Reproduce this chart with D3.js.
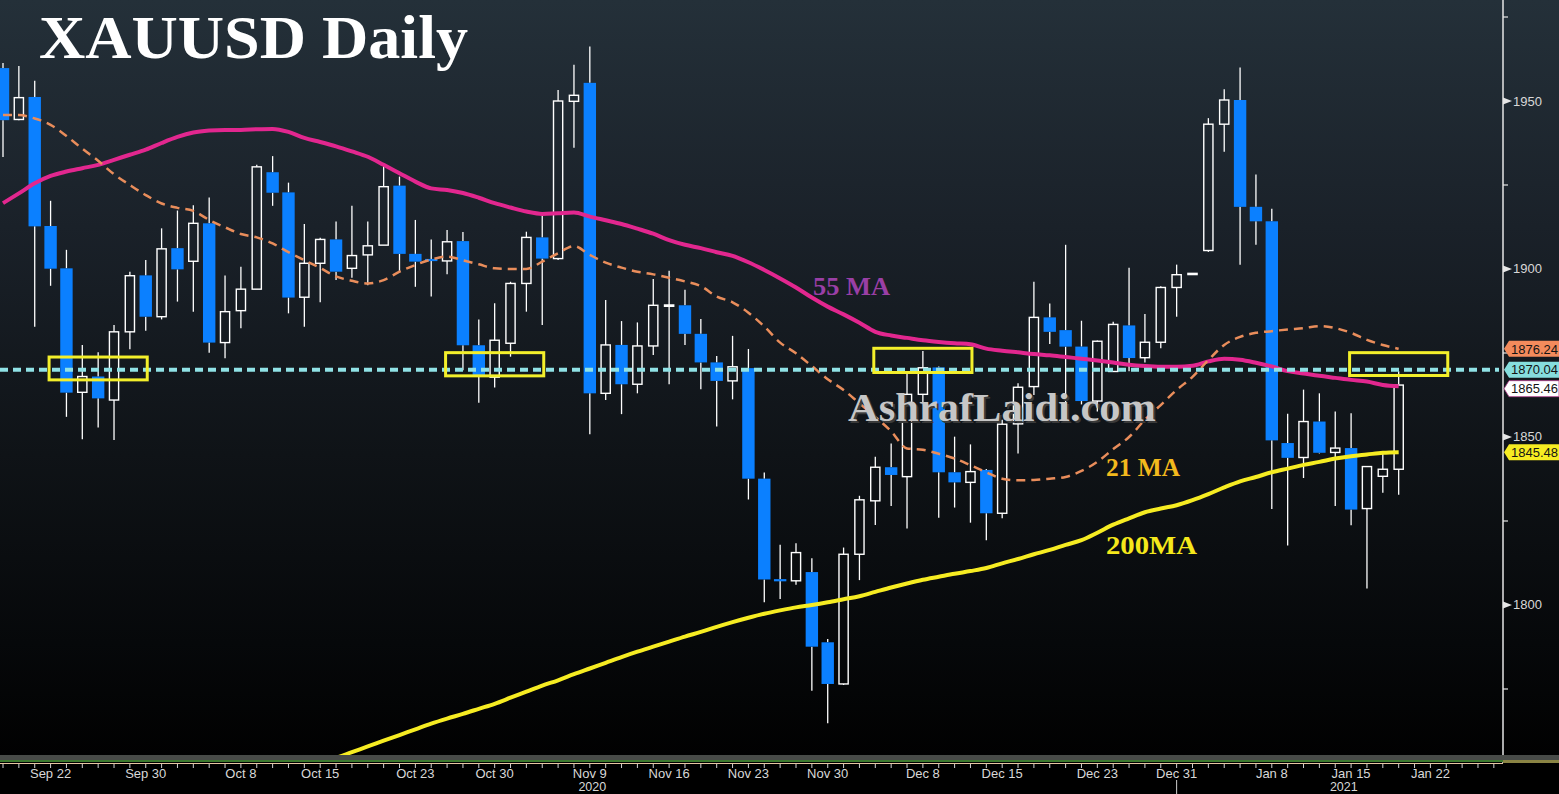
<!DOCTYPE html>
<html><head><meta charset="utf-8">
<script src="https://cdn.jsdelivr.net/npm/d3@7"></script>
<style>html,body{margin:0;padding:0;background:#000;overflow:hidden}</style>
</head><body>
<svg id="c" width="1559" height="794"></svg>
<script>
// ---------------- DATA ----------------
const dates = [
 "2020-09-17","2020-09-18","2020-09-21","2020-09-22","2020-09-23","2020-09-24","2020-09-25","2020-09-28","2020-09-29","2020-09-30",
 "2020-10-01","2020-10-02","2020-10-05","2020-10-06","2020-10-07","2020-10-08","2020-10-09","2020-10-12","2020-10-13","2020-10-14",
 "2020-10-15","2020-10-16","2020-10-19","2020-10-20","2020-10-21","2020-10-22","2020-10-23","2020-10-26","2020-10-27","2020-10-28",
 "2020-10-29","2020-10-30","2020-11-02","2020-11-03","2020-11-04","2020-11-05","2020-11-06","2020-11-09","2020-11-10","2020-11-11",
 "2020-11-12","2020-11-13","2020-11-16","2020-11-17","2020-11-18","2020-11-19","2020-11-20","2020-11-23","2020-11-24","2020-11-25",
 "2020-11-26","2020-11-27","2020-11-30","2020-12-01","2020-12-02","2020-12-03","2020-12-04","2020-12-07","2020-12-08","2020-12-09",
 "2020-12-10","2020-12-11","2020-12-14","2020-12-15","2020-12-16","2020-12-17","2020-12-18","2020-12-21","2020-12-22","2020-12-23",
 "2020-12-24","2020-12-28","2020-12-29","2020-12-30","2020-12-31","2021-01-01","2021-01-04","2021-01-05","2021-01-06","2021-01-07",
 "2021-01-08","2021-01-11","2021-01-12","2021-01-13","2021-01-14","2021-01-15","2021-01-18","2021-01-19","2021-01-20"];
const futureDates = ["2021-01-21","2021-01-22","2021-01-25","2021-01-26","2021-01-27","2021-01-28"];

const open = [
 1959.8,1944.5,1951.2,1912.8,1900.2,1863.3,1868.0,1861.0,1881.3,1898.1,
 1885.8,1906.2,1902.3,1913.6,1878.1,1887.6,1894.0,1928.8,1922.8,1891.6,
 1901.7,1908.8,1900.2,1904.2,1907.1,1924.8,1904.5,1903.0,1902.4,1908.3,
 1877.3,1867.8,1877.9,1895.7,1909.4,1903.1,1949.9,1955.4,1863.0,1877.4,
 1865.7,1877.1,1888.9,1889.2,1880.7,1872.2,1866.7,1870.5,1837.6,1807.7,
 1807.2,1809.8,1788.9,1776.5,1815.1,1831.0,1841.0,1838.2,1862.7,1870.7,
 1839.5,1836.5,1840.2,1827.3,1853.9,1865.0,1885.6,1881.8,1876.9,1860.7,
 1869.5,1883.2,1873.6,1878.2,1894.5,1898.6,1905.5,1943.1,1950.3,1918.5,
 1914.2,1848.2,1843.9,1854.6,1845.4,1846.7,1828.7,1838.3,1840.4];
const high = [
 1961.3,1960.4,1956.0,1920.3,1905.7,1877.4,1875.2,1883.3,1899.2,1902.7,
 1912.1,1917.4,1919.0,1921.3,1898.1,1900.7,1931.0,1933.6,1925.7,1913.4,
 1909.3,1914.1,1918.8,1914.1,1931.0,1927.5,1914.6,1908.8,1911.6,1911.0,
 1885.0,1889.8,1896.2,1911.1,1915.9,1953.3,1960.8,1966.2,1890.8,1884.5,
 1884.1,1897.0,1899.5,1893.8,1885.1,1874.1,1880.1,1876.2,1839.4,1817.9,
 1818.4,1813.9,1789.9,1817.1,1832.5,1844.1,1848.1,1869.0,1875.6,1871.0,
 1850.1,1847.8,1840.5,1855.1,1866.0,1896.2,1889.7,1907.2,1884.6,1878.7,
 1884.3,1900.4,1886.6,1894.9,1901.3,1898.8,1944.9,1953.5,1960.0,1928.1,
 1917.9,1856.9,1864.1,1863.0,1857.6,1857.1,1841.2,1845.8,1869.6];
const low = [
 1933.3,1944.3,1882.8,1895.0,1856.0,1849.3,1852.8,1849.1,1876.1,1881.6,
 1885.0,1890.3,1887.3,1875.1,1873.4,1882.4,1894.0,1918.8,1886.8,1882.8,
 1890.1,1896.7,1897.4,1895.2,1907.1,1899.0,1894.7,1891.8,1898.4,1869.9,
 1860.2,1864.7,1873.9,1887.3,1883.3,1902.7,1936.1,1850.8,1861.0,1856.8,
 1863.0,1874.4,1865.7,1877.4,1864.2,1853.1,1861.2,1831.4,1800.8,1801.8,
 1806.0,1774.5,1764.8,1776.2,1807.4,1823.8,1829.5,1822.8,1860.3,1826.0,
 1829.0,1824.5,1819.3,1825.8,1845.1,1862.5,1877.7,1860.0,1859.7,1857.6,
 1869.5,1869.6,1872.2,1876.4,1885.8,1898.5,1905.1,1934.9,1901.3,1907.2,
 1828.6,1817.7,1837.8,1845.1,1829.5,1823.7,1804.9,1833.4,1832.8];
const close = [
 1944.3,1951.0,1912.7,1900.1,1863.2,1868.0,1861.5,1881.3,1898.0,1885.8,
 1906.0,1899.9,1913.6,1878.1,1887.3,1894.0,1930.4,1922.7,1891.5,1901.7,
 1908.8,1899.2,1904.0,1906.9,1924.5,1904.5,1902.2,1902.4,1908.1,1877.3,
 1868.0,1878.8,1895.7,1909.4,1903.1,1950.0,1951.7,1863.0,1877.4,1865.7,
 1877.1,1889.2,1889.3,1880.7,1872.2,1866.7,1870.9,1837.6,1807.6,1807.4,
 1815.6,1787.6,1776.5,1815.1,1831.3,1841.0,1838.7,1862.7,1870.6,1839.5,
 1836.5,1839.7,1827.3,1853.8,1864.8,1885.6,1881.3,1876.9,1860.7,1878.5,
 1883.5,1873.5,1878.2,1894.5,1898.3,1898.7,1943.1,1950.3,1918.5,1914.2,
 1849.0,1843.8,1854.6,1845.3,1846.7,1828.4,1841.2,1840.4,1865.46];

const ma21 = [
 1945.8,1945.8,1944.8,1942.9,1939.6,1935.8,1932.2,1928.2,1925.0,1922.0,
 1919.5,1918.2,1917.3,1914.6,1912.4,1910.4,1909.4,1907.6,1905.0,1902.6,
 1900.3,1897.8,1896.5,1895.7,1896.7,1899.2,1901.2,1902.8,1903.7,1902.6,
 1901.4,1900.2,1900.0,1900.0,1902.2,1904.7,1906.8,1904.2,1901.9,1900.4,
 1899.2,1898.4,1897.4,1896.3,1894.9,1891.8,1890.1,1887.0,1882.9,1878.1,
 1874.9,1871.1,1867.2,1864.0,1860.0,1856.0,1851.7,1846.6,1846.2,1845.0,
 1843.6,1841.6,1839.5,1837.6,1837.1,1837.2,1837.6,1838.1,1839.9,1842.6,
 1846.4,1850.0,1855.1,1859.5,1864.0,1867.9,1872.9,1877.4,1879.8,1881.0,
 1881.5,1882.0,1882.4,1883.0,1882.4,1881.0,1878.9,1877.4,1876.24];
const ma55 = [
 1919.6,1922.5,1925.5,1927.7,1929.0,1930.0,1931.0,1932.5,1934.0,1935.5,
 1937.5,1939.3,1940.6,1941.2,1941.4,1941.4,1941.6,1941.7,1940.8,1939.0,
 1937.8,1936.5,1935.0,1933.4,1931.0,1928.5,1926.0,1924.0,1923.5,1922.6,
 1921.2,1919.6,1918.3,1917.1,1916.4,1916.6,1916.8,1915.6,1914.5,1913.4,
 1912.0,1910.5,1908.6,1907.2,1906.2,1905.0,1903.9,1902.0,1899.7,1897.2,
 1894.5,1891.5,1888.8,1886.5,1884.0,1881.3,1880.2,1879.5,1878.8,1878.3,
 1877.9,1877.6,1876.3,1875.7,1875.2,1874.7,1874.3,1873.8,1873.3,1872.8,
 1872.2,1871.5,1871.1,1870.9,1870.9,1871.2,1872.5,1873.3,1873.0,1872.1,
 1871.0,1869.6,1868.9,1868.2,1867.6,1867.0,1866.5,1865.5,1865.1];
const ma200StartDate = "2020-10-15";
const ma200 = [
 1752.5,1754.5,1756.2,1757.9,1759.6,1761.3,1763.0,1764.7,1766.2,1767.6,
 1769.1,1770.6,1772.4,1774.2,1776.0,1777.6,1779.4,1781.1,1782.8,1784.5,
 1786.1,1787.6,1789.1,1790.6,1792.0,1793.5,1794.9,1796.2,1797.4,1798.4,
 1799.3,1800.0,1800.8,1801.7,1802.6,1803.9,1805.2,1806.4,1807.5,1808.4,
 1809.3,1810.1,1811.0,1812.4,1813.7,1815.1,1816.4,1817.9,1819.3,1821.5,
 1823.9,1825.8,1827.6,1828.7,1829.7,1831.2,1833.0,1835.0,1836.8,1838.1,
 1839.5,1840.6,1841.7,1842.6,1843.6,1844.3,1844.8,1845.3,1845.48];

const supportLevel = 1870.04;
const boxStart = ["2020-09-22","2020-10-27","2020-12-03","2021-01-15"];
const boxEnd   = ["2020-09-30","2020-11-04","2020-12-11","2021-01-25"];
const boxLow   = [1867.0,1868.2,1869.2,1868.3];
const boxHigh  = [1873.8,1875.1,1876.4,1875.1];

const yTicks = [1800,1850,1900,1950];
const yMinorTicks = [1775,1825,1875,1925,1975];
const xTickDates  = ["2020-09-22","2020-09-30","2020-10-08","2020-10-15","2020-10-23","2020-10-30","2020-11-09","2020-11-16","2020-11-23","2020-11-30","2020-12-08","2020-12-15","2020-12-23","2020-12-31","2021-01-08","2021-01-15","2021-01-22"];
const xTickLabels = ["Sep 22","Sep 30","Oct 8","Oct 15","Oct 23","Oct 30","Nov 9","Nov 16","Nov 23","Nov 30","Dec 8","Dec 15","Dec 23","Dec 31","Jan 8","Jan 15","Jan 22"];
const yearLabels = ["2020","2021"];
const tagValues = [1876.24,1870.04,1865.46,1845.48];
const tagNames  = ["ma21","level","close","ma200"];

// ---------------- LAYOUT / STYLE ----------------
const W = 1559, H = 794, plotRight = 1503, plotBottom = 757;
const C = {
  blue:"#0b80ff", white:"#ffffff", ma55:"#e2278f", ma21:"#e98d5b", ma200:"#f6ec22",
  level:"#90e2e6", box:"#f3ef2b", axis:"#e6e6e6", text:"#d8d8d8"
};
const tagFill = {ma21:"#f38b5c", level:"#86dede", close:"#ffffff", ma200:"#f6ec22"};

const svg = d3.select("#c");
const defs = svg.append("defs");
const grad = defs.append("linearGradient").attr("id","bg").attr("x1",0).attr("y1",0).attr("x2",0).attr("y2",1);
[[0,"#243039"],[0.3,"#1a2129"],[0.6,"#0f1317"],[0.85,"#06080a"],[1,"#010101"]].forEach(s=>
  grad.append("stop").attr("offset",s[0]).attr("stop-color",s[1]));
defs.append("clipPath").attr("id","clip").append("rect").attr("x",0).attr("y",0).attr("width",plotRight).attr("height",plotBottom);

svg.append("rect").attr("width",W).attr("height",H).attr("fill","#000");
svg.append("rect").attr("width",W).attr("height",plotBottom).attr("fill","url(#bg)");

// scales
const axisDates = dates.concat(futureDates);
const step = 15.86;
const x = d3.scalePoint().domain(axisDates).range([3, 3 + step*(axisDates.length-1)]);
const y = d3.scaleLinear().domain([1754.76, 1980.06]).range([plotBottom, 0]);

const candles = dates.map((d,i)=>({d, o:open[i], h:high[i], l:low[i], c:close[i]}));

const plot = svg.append("g").attr("clip-path","url(#clip)");

// wicks
const wick = plot.append("g").attr("stroke",C.white).attr("stroke-width",1.3);
wick.selectAll("line.up").data(candles).join("line")
  .attr("x1",d=>x(d.d)).attr("x2",d=>x(d.d))
  .attr("y1",d=>y(d.h)).attr("y2",d=>y(Math.max(d.o,d.c)));
wick.selectAll("line.dn").data(candles).join("line").attr("class","dn")
  .attr("x1",d=>x(d.d)).attr("x2",d=>x(d.d))
  .attr("y1",d=>y(Math.min(d.o,d.c))).attr("y2",d=>y(d.l));

// bodies
plot.append("g").selectAll("rect").data(candles.filter(d=>d.c<d.o)).join("rect")
  .attr("x",d=>x(d.d)-6.2).attr("width",12.4)
  .attr("y",d=>y(d.o)).attr("height",d=>Math.max(2.2,y(d.c)-y(d.o)))
  .attr("fill",C.blue);
plot.append("g").selectAll("rect").data(candles.filter(d=>d.c>=d.o)).join("rect")
  .attr("x",d=>x(d.d)-4.6).attr("width",9.2)
  .attr("y",d=>y(d.c)).attr("height",d=>Math.max(1.2,y(d.o)-y(d.c)))
  .attr("fill","none").attr("stroke",C.white).attr("stroke-width",1.4);

// moving averages
const line = d3.line().x(d=>x(d[0])).y(d=>y(d[1])).curve(d3.curveMonotoneX);
const s200 = dates.indexOf(ma200StartDate);
plot.append("path").datum(ma200.map((v,i)=>[dates[s200+i],v])).attr("d",line)
  .attr("fill","none").attr("stroke",C.ma200).attr("stroke-width",4);
plot.append("path").datum(ma55.map((v,i)=>[dates[i],v])).attr("d",line)
  .attr("fill","none").attr("stroke",C.ma55).attr("stroke-width",4);
plot.append("path").datum(ma21.map((v,i)=>[dates[i],v])).attr("d",line)
  .attr("fill","none").attr("stroke",C.ma21).attr("stroke-width",2.5).attr("stroke-dasharray","9,6");

// support level
plot.append("line").attr("x1",0).attr("x2",plotRight-4)
  .attr("y1",y(supportLevel)).attr("y2",y(supportLevel))
  .attr("stroke",C.level).attr("stroke-width",4).attr("stroke-dasharray","8,5");

// boxes
plot.append("g").selectAll("rect").data(boxStart.map((s,i)=>({s,e:boxEnd[i],lo:boxLow[i],hi:boxHigh[i]}))).join("rect")
  .attr("x",d=>x(d.s)-1.5).attr("width",d=>x(d.e)-x(d.s)+3)
  .attr("y",d=>y(d.hi)).attr("height",d=>y(d.lo)-y(d.hi))
  .attr("fill","none").attr("stroke",C.box).attr("stroke-width",3);

// watermark
const serif = "'Liberation Serif','DejaVu Serif',serif";
const wm = svg.append("g").attr("font-family",serif).attr("font-weight","bold").attr("font-size",41);
wm.append("text").attr("x",850).attr("y",423).attr("textLength",308).attr("lengthAdjust","spacingAndGlyphs")
  .attr("fill","#3a3a3a").text("AshrafLaidi.com");
wm.append("text").attr("x",848).attr("y",421).attr("textLength",308).attr("lengthAdjust","spacingAndGlyphs")
  .attr("fill","#c6c6c6").text("AshrafLaidi.com");

// MA labels
const lab = svg.append("g").attr("font-family",serif).attr("font-weight","bold");
lab.append("text").attr("x",813).attr("y",295).attr("font-size",26).attr("textLength",77).attr("lengthAdjust","spacingAndGlyphs").attr("fill","#9a3fa6").text("55 MA");
lab.append("text").attr("x",1106).attr("y",476).attr("font-size",25).attr("textLength",74).attr("lengthAdjust","spacingAndGlyphs").attr("fill","#f2b91d").text("21 MA");
lab.append("text").attr("x",1106).attr("y",554).attr("font-size",26).attr("textLength",91).attr("lengthAdjust","spacingAndGlyphs").attr("fill","#f5e81b").text("200MA");

// title
svg.append("text").attr("x",39).attr("y",58).attr("font-family",serif).attr("font-weight","bold")
  .attr("font-size",61).attr("textLength",429).attr("lengthAdjust","spacingAndGlyphs")
  .attr("fill","#fff").text("XAUUSD Daily");

// ---------- right axis ----------
const sans = "'Liberation Sans',Arial,sans-serif";
const ax = svg.append("g");
ax.append("line").attr("x1",plotRight).attr("x2",plotRight).attr("y1",0).attr("y2",763)
  .attr("stroke",C.axis).attr("stroke-width",1.5);
ax.selectAll("path.tri").data(yTicks).join("path")
  .attr("d",v=>`M${plotRight},${y(v)-3.5}L${plotRight+9},${y(v)}L${plotRight},${y(v)+3.5}Z`).attr("fill",C.axis);
ax.selectAll("text.yt").data(yTicks).join("text")
  .attr("x",plotRight+10).attr("y",v=>y(v)+4.5).attr("font-family",sans).attr("font-size",13)
  .attr("fill",C.text).text(d=>d);
ax.selectAll("line.mn").data(yMinorTicks).join("line")
  .attr("x1",plotRight).attr("x2",plotRight+5).attr("y1",v=>y(v)).attr("y2",v=>y(v))
  .attr("stroke",C.axis).attr("stroke-width",1.2);

// price tags with simple collision avoidance
const tags = tagValues.map((v,i)=>({v,name:tagNames[i],cy:y(v)})).sort((a,b)=>a.cy-b.cy);
for(let i=1;i<tags.length;i++){ if(tags[i].cy < tags[i-1].cy+19) tags[i].cy = tags[i-1].cy+19; }
const tg = svg.append("g").selectAll("g").data(tags).join("g");
tg.append("path").attr("d",d=>`M${plotRight+1},${d.cy}L${plotRight+6},${d.cy-8}L${W},${d.cy-8}L${W},${d.cy+8}L${plotRight+6},${d.cy+8}Z`)
  .attr("fill",d=>tagFill[d.name]).attr("stroke",d=>d.name==="close"?"#b03a8a":"none").attr("stroke-width",0.8);
tg.append("text").attr("x",plotRight+8).attr("y",d=>d.cy+4.8).attr("font-family",sans).attr("font-size",13)
  .attr("fill","#141414").text(d=>d.v.toFixed(2));

// ---------- bottom axis ----------
const bx = svg.append("g");
bx.append("rect").attr("x",0).attr("y",755).attr("width",W).attr("height",5).attr("fill","#484b48");
bx.append("rect").attr("x",0).attr("y",760).attr("width",plotRight).attr("height",2).attr("fill","#3c7a2e");
bx.append("rect").attr("x",plotRight).attr("y",760).attr("width",W-plotRight).attr("height",3).attr("fill","#8a8444");
bx.append("line").attr("x1",0).attr("x2",plotRight).attr("y1",763.5).attr("y2",763.5).attr("stroke","#e8c6a2").attr("stroke-width",1);
bx.selectAll("line.tk").data(axisDates).join("line")
  .attr("x1",d=>x(d)).attr("x2",d=>x(d)).attr("y1",764).attr("y2",768)
  .attr("stroke","#cfcfcf").attr("stroke-width",1);
bx.selectAll("text.xl").data(xTickDates).join("text")
  .attr("x",d=>x(d)).attr("y",778).attr("text-anchor","middle").attr("font-family",sans)
  .attr("font-size",13).attr("fill",C.text).text((d,i)=>xTickLabels[i]);
// year boundary
const lastOf2020 = dates.filter(d=>d.startsWith("2020")).pop();
const xb = x(lastOf2020);
bx.append("line").attr("x1",xb).attr("x2",xb).attr("y1",780).attr("y2",H).attr("stroke","#cfcfcf").attr("stroke-width",1);
const yearMid = [(0 + xb + step/2)/2, (xb + step/2 + plotRight)/2];
bx.selectAll("text.yr").data(yearLabels).join("text")
  .attr("x",(d,i)=>yearMid[i]).attr("y",791).attr("text-anchor","middle").attr("font-family",sans)
  .attr("font-size",12.5).attr("fill",C.text).text(d=>d);
</script>
</body></html>
